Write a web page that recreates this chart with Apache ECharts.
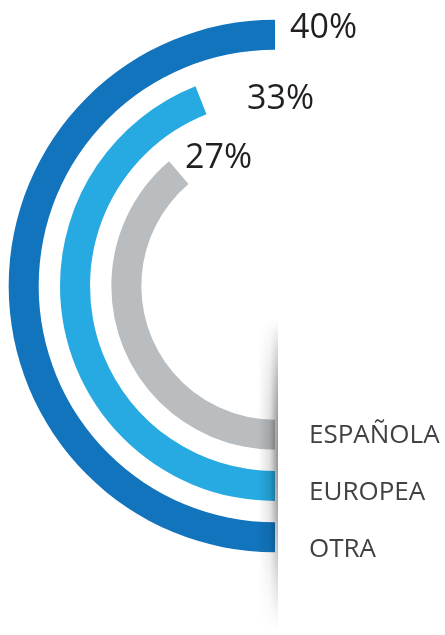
<!DOCTYPE html>
<html>
<head>
<meta charset="utf-8">
<script src="https://cdn.jsdelivr.net/npm/echarts@6/dist/echarts.min.js"></script>
<style>
html,body{margin:0;padding:0;background:#fff;}
#chart{width:445px;height:635px;}
</style>
</head>
<body>
<div id="chart"></div>
<script>
// ---- data ----
var categories = ['ESPAÑOLA', 'EUROPEA', 'OTRA'];
var values = [27, 33, 40];
var pctLabels = ['27%', '33%', '40%'];
var colors = ['#b9bdc0', '#26aae1', '#1174bc'];

var chart = echarts.init(document.getElementById('chart'), null, {renderer: 'canvas'});

// label placement (style)
var pctPos = [[185, 158], [247, 99], [290, 28]];
var catPos = [[309, 436], [309, 493], [309, 550]];

var graphics = [];
// fold shadow on the right side
var y0 = 318, y1 = 634, step = 2;
for (var y = y0; y < y1; y += step) {
  var t = (y - y0) / (y1 - y0);
  var a = Math.pow(Math.sin(Math.PI * Math.pow(t, 0.8)), 1.3) * 0.42;
  graphics.push({
    type: 'rect', z: 100, silent: true,
    shape: {x: 258, y: y, width: 20, height: step},
    style: {
      fill: new echarts.graphic.LinearGradient(0, 0, 1, 0, [
        {offset: 0, color: 'rgba(0,0,0,0)'},
        {offset: 0.6, color: 'rgba(0,0,0,' + (a * 0.3).toFixed(3) + ')'},
        {offset: 1, color: 'rgba(0,0,0,' + a.toFixed(3) + ')'}
      ])
    }
  });
}
for (var i = 0; i < categories.length; i++) {
  graphics.push({
    type: 'text', z: 110, x: pctPos[i][0], y: pctPos[i][1],
    style: {text: pctLabels[i], font: '34px "Open Sans"', fill: '#231f20', verticalAlign: 'middle', align: 'left'}
  });
  graphics.push({
    type: 'text', z: 110, x: catPos[i][0], y: catPos[i][1],
    style: {text: categories[i], font: '26px "Open Sans"', fill: '#414042', verticalAlign: 'middle', align: 'left'}
  });
}

var option = {
  animation: false,
  backgroundColor: '#ffffff',
  polar: {center: [275, 286], radius: [123, 277]},
  angleAxis: {
    type: 'value', min: -18, max: 98, startValue: -18,
    startAngle: 270, clockwise: true, show: false
  },
  radiusAxis: {type: 'category', data: categories, show: false},
  series: [{
    type: 'bar', coordinateSystem: 'polar', barWidth: 30,
    data: values.map(function (v, i) { return {value: v, itemStyle: {color: colors[i]}}; })
  }],
  graphic: graphics
};
chart.setOption(option);
</script>
</body>
</html>
